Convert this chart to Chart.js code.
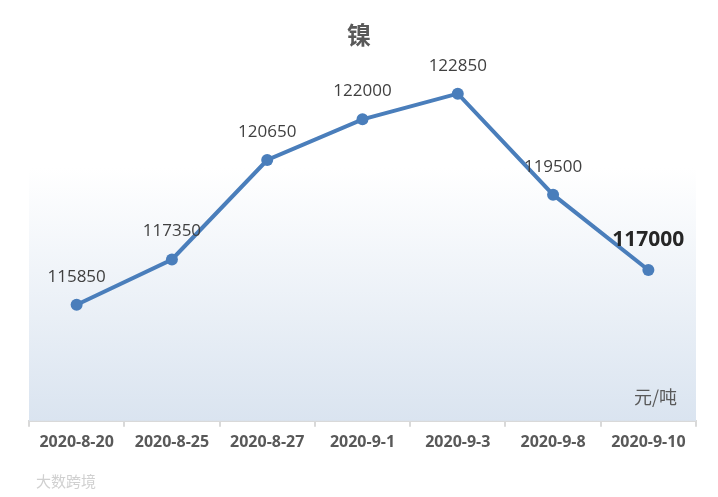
<!DOCTYPE html>
<html>
<head>
<meta charset="utf-8">
<script src="https://cdn.jsdelivr.net/npm/chart.js@4.4.1/dist/chart.umd.min.js"></script>
<style>
  html, body { margin: 0; padding: 0; background: #fff; }
  #wrap { width: 718px; height: 497px; position: relative; }
</style>
</head>
<body>
<div id="wrap"><canvas id="nickelChart" width="718" height="497"></canvas></div>
<script>
const dates = ['2020-8-20', '2020-8-25', '2020-8-27', '2020-9-1', '2020-9-3', '2020-9-8', '2020-9-10'];
const prices = [115850, 117350, 120650, 122000, 122850, 119500, 117000];
const chartTitle = '镍';
const unitLabel = '元/吨';
const yMin = 112000;
const yMax = 124000;

const cjkFont = '"Microsoft YaHei", "Noto Sans CJK SC", sans-serif';
const numFont = '"Open Sans", "Noto Sans", sans-serif';

// gradient background + title + unit text
const decorPlugin = {
  id: 'decor',
  beforeDatasetsDraw(chart) {
    const { ctx, chartArea: a } = chart;
    const g = ctx.createLinearGradient(0, a.top, 0, a.bottom);
    g.addColorStop(0, '#ffffff');
    g.addColorStop(0.3, '#ffffff');
    g.addColorStop(1, '#dae4f0');
    ctx.save();
    ctx.fillStyle = g;
    ctx.fillRect(a.left, a.top, a.right - a.left, a.bottom - a.top);
    ctx.restore();
  },
  afterDraw(chart) {
    const { ctx, chartArea: a } = chart;
    ctx.save();
    ctx.fillStyle = '#595959';
    ctx.textAlign = 'center';
    ctx.textBaseline = 'middle';
    ctx.font = 'bold 24px ' + cjkFont;
    ctx.fillText(chartTitle, 359, 35);
    ctx.font = '18px ' + cjkFont;
    ctx.textAlign = 'right';
    ctx.fillText(unitLabel, a.right - 19, a.bottom - 24);
    // watermark
    ctx.fillStyle = '#d0d0d0';
    ctx.textAlign = 'left';
    ctx.font = '15px ' + cjkFont;
    ctx.fillText('大数跨境', 36, 481);
    ctx.restore();
  }
};

// value labels above the points
const labelPlugin = {
  id: 'valueLabels',
  afterDatasetsDraw(chart) {
    const { ctx } = chart;
    const meta = chart.getDatasetMeta(0);
    ctx.save();
    ctx.textAlign = 'center';
    ctx.textBaseline = 'middle';
    meta.data.forEach((pt, i) => {
      const last = i === meta.data.length - 1;
      ctx.fillStyle = last ? '#262626' : '#404040';
      ctx.font = (last ? 'bold 21px ' : '17px ') + numFont;
      ctx.fillText(String(prices[i]), pt.x, pt.y - (last ? 30 : 28));
    });
    ctx.restore();
  }
};

new Chart(document.getElementById('nickelChart'), {
  type: 'line',
  data: {
    labels: dates,
    datasets: [{
      data: prices,
      borderColor: '#4a7ebb',
      backgroundColor: '#4a7ebb',
      borderWidth: 4,
      pointRadius: 6,
      pointHoverRadius: 6,
      pointBorderWidth: 0,
      tension: 0,
      fill: false
    }]
  },
  options: {
    responsive: false,
    animation: false,
    layout: { padding: { left: 29, right: 22, top: 59, bottom: 39 } },
    plugins: {
      legend: { display: false },
      tooltip: { enabled: false }
    },
    scales: {
      x: {
        offset: true,
        grid: {
          offset: true,
          drawOnChartArea: false,
          drawTicks: true,
          tickLength: 6,
          color: '#d9d9d9',
          lineWidth: 2
        },
        border: { color: '#d9d9d9', width: 2 },
        ticks: {
          color: '#595959',
          padding: 6,
          maxRotation: 0,
          font: { size: 16, weight: 'bold', family: numFont }
        }
      },
      y: {
        display: false,
        min: yMin,
        max: yMax
      }
    }
  },
  plugins: [decorPlugin, labelPlugin]
});
</script>
</body>
</html>
